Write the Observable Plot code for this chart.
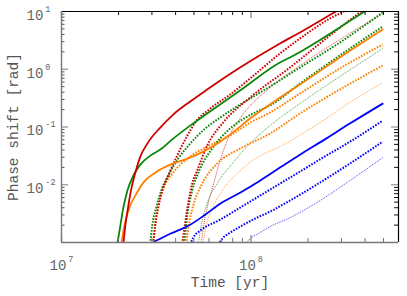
<!DOCTYPE html>
<html><head><meta charset="utf-8">
<script src="https://cdn.jsdelivr.net/npm/d3@7"></script>
<script src="https://cdn.jsdelivr.net/npm/@observablehq/plot@0.6"></script>
<style>body{margin:0;background:#fff}</style>
</head><body><div id="chart"></div>
<script>
// times are in units of 1e7 yr, phase shift in rad
const redSolidT   = [2.12,2.172,2.253,2.336,2.452,2.605,2.836,3.32,3.886,4.775,5.868,8.752,14.21,18.11,28.02,49.52];
const redSolidP   = [0.00095,0.00196,0.00434,0.00856,0.0162,0.0307,0.0516,0.0976,0.164,0.276,0.445,1.07,2.79,4.33,10,29.4];
const redDot1T    = [3.049,3.124,3.24,3.401,3.658,4.03,4.55,5.074,6.085,7.753,9.879,14.21,20.44,26.05,29.4,49.52];
const redDot1P    = [0.00095,0.00196,0.00401,0.0079,0.0144,0.0295,0.0655,0.119,0.208,0.364,0.69,1.87,4.5,7.56,9.23,27.1];
const redDot2T    = [4.334,4.495,4.66,4.893,5.198,5.868,7.122,9.879,16.04,26.05,37.48,49.52];
const redDot2P    = [0.00095,0.0022,0.0047,0.01045,0.01756,0.0476,0.119,0.323,1.07,3.84,9.61,18.9];
const redFaintT   = [5.457,5.658,5.939,6.31,6.869,7.568,8.752,12.59,18.11,29.4,49.52];
const redFaintP   = [0.00095,0.0022,0.0047,0.00965,0.0262,0.063,0.14,0.482,1.16,3.27,9.23];

const greenSolidT = [1.971,2.044,2.12,2.226,2.393,2.605,2.94,3.32,3.886,4.775,5.868,8.752,14.21,16.04,39.81,49.52];
const greenSolidP = [0.00095,0.00196,0.00401,0.0079,0.0144,0.0223,0.0319,0.0406,0.063,0.1057,0.171,0.427,1.31,1.6,10,15.5];
const greenDot1T  = [2.94,3.012,3.162,3.36,3.658,4.129,4.775,5.729,6.869,8.752,12.59,18.11,29.4,49.52];
const greenDot1P  = [0.00095,0.00196,0.00401,0.0079,0.0144,0.0283,0.0516,0.0938,0.1455,0.244,0.501,1.07,2.9,9.61];
const greenDot2T  = [4.441,4.605,4.893,5.391,6.234,7.753,10.5,12.59,18.11,29.4,49.52];
const greenDot2P  = [0.00095,0.00291,0.0079,0.019,0.0422,0.0938,0.178,0.235,0.565,1.73,5.49];
const greenFaintT = [5.262,5.524,5.939,6.624,8.037,9.879,12.59,18.11,29.4,49.52];
const greenFaintP = [0.00095,0.00239,0.0053,0.01045,0.0242,0.0516,0.1057,0.254,0.747,2.28];

const orangeSolidT = [2.069,2.146,2.28,2.452,2.702,3.124,3.748,4.775,5.729,6.869,8.239,9.879,14.21,18.11,29.4,49.52];
const orangeSolidP = [0.00095,0.00196,0.00401,0.00647,0.01088,0.0162,0.0223,0.0295,0.039,0.0558,0.0866,0.14,0.323,0.543,1.6,4.88];
const orangeDot1T  = [3.049,3.124,3.24,3.443,3.886,4.605,5.868,7.753,9.879,12.59,18.11,29.4,49.52];
const orangeDot1P  = [0.00095,0.0022,0.00434,0.00856,0.0162,0.0283,0.0457,0.071,0.119,0.178,0.379,1.03,2.68];
const orangeDot2T  = [4.55,4.718,4.952,5.524,6.624,8.752,12.59,18.11,29.4,49.52];
const orangeDot2P  = [0.00095,0.0022,0.00434,0.01045,0.0232,0.0422,0.0769,0.171,0.445,1.16];
const orangeFaintT = [5.591,5.798,6.085,6.869,8.439,10.75,14.21,23.93,33.2,49.52];
const orangeFaintP = [0.00095,0.00196,0.00316,0.00701,0.0156,0.0295,0.0457,0.129,0.265,0.588];

const blueSolidT = [2.94,3.049,3.32,3.748,4.229,4.775,5.729,6.869,8.752,11.15,14.21,18.11,23.93,33.2,49.52];
const blueSolidP = [0.000845,0.000992,0.00116,0.00142,0.00167,0.00203,0.00303,0.0047,0.00729,0.01178,0.0198,0.0332,0.0581,0.1146,0.254];
const blueDot1T  = [4.775,4.952,5.391,6.869,8.752,11.15,14.21,18.11,23.93,34.01,49.52];
const blueDot1P  = [0.000916,0.00121,0.0016,0.00248,0.00401,0.00647,0.01045,0.01686,0.0295,0.0581,0.129];
const blueDot2T  = [6.705,7.037,7.753,8.752,10.5,12.59,16.04,23.08,33.2,49.52];
const blueDot2P  = [0.000916,0.00116,0.00148,0.00188,0.00259,0.00342,0.0053,0.01088,0.0232,0.0558];
const blueFaintT = [9.299,9.879,11.15,12.59,16.04,23.08,33.2,49.52];
const blueFaintP = [0.00095,0.00116,0.00148,0.00188,0.00269,0.0053,0.01178,0.0295];

const xMajor = [1e7, 1e8];
const xMinor = [2e7,3e7,4e7,5e7,6e7,7e7,8e7,9e7,2e8,3e8,4e8,5e8];
const yMajor = [1e-2, 1e-1, 1];
const yMinor = [2e-3,3e-3,4e-3,5e-3,6e-3,7e-3,8e-3,9e-3,2e-2,3e-2,4e-2,5e-2,6e-2,7e-2,8e-2,9e-2,2e-1,3e-1,4e-1,5e-1,6e-1,7e-1,8e-1,9e-1,2,3,4,5,6,7,8,9];
const xLabels = [{v:1e7, s:"10^7"}, {v:1e8, s:"10^8"}];
const yLabels = [{v:10, s:"10^1"}, {v:1, s:"10^0"}, {v:0.1, s:"10^-1"}, {v:0.01, s:"10^-2"}];

const RED = "#cc0000", GREEN = "#0a870a", ORANGE = "#ff8000", BLUE = "#0000ff";
const series = [
  {t: redFaintT, p: redFaintP, c: RED, k: "faint"},
  {t: greenFaintT, p: greenFaintP, c: GREEN, k: "faint"},
  {t: orangeFaintT, p: orangeFaintP, c: ORANGE, k: "faint"},
  {t: blueFaintT, p: blueFaintP, c: BLUE, k: "faint"},
  {t: orangeDot2T, p: orangeDot2P, c: ORANGE, k: "dot"},
  {t: orangeDot1T, p: orangeDot1P, c: ORANGE, k: "dot"},
  {t: blueDot2T, p: blueDot2P, c: BLUE, k: "dot"},
  {t: blueDot1T, p: blueDot1P, c: BLUE, k: "dot"},
  {t: greenDot2T, p: greenDot2P, c: GREEN, k: "dot"},
  {t: greenDot1T, p: greenDot1P, c: GREEN, k: "dot"},
  {t: redDot2T, p: redDot2P, c: RED, k: "dot"},
  {t: redDot1T, p: redDot1P, c: RED, k: "dot"},
  {t: orangeSolidT, p: orangeSolidP, c: ORANGE, k: "solid"},
  {t: blueSolidT, p: blueSolidP, c: BLUE, k: "solid"},
  {t: greenSolidT, p: greenSolidP, c: GREEN, k: "solid"},
  {t: redSolidT, p: redSolidP, c: RED, k: "solid"}
];
const styles = {
  solid: {strokeWidth: 1.8},
  dot:   {strokeWidth: 2, strokeDasharray: "1.6,1.4", strokeLinecap: "butt"},
  faint: {strokeWidth: 1, strokeDasharray: "1,1", strokeOpacity: 0.75, strokeLinecap: "butt"}
};

const W = 407, H = 296, mL = 61, mT = 11, mR = 9, mB = 54;
const fw = W - mL - mR, fh = H - mT - mB;
const FONT = "'Liberation Mono', 'DejaVu Sans Mono', monospace";

const lineMarks = series.map(s => Plot.line(s.t.map((t, i) => ({t: t * 1e7, p: s.p[i]})), {
  x: "t", y: "p", stroke: s.c, curve: "monotone-x", clip: true, ...styles[s.k]
}));

const chart = Plot.plot({
  width: W, height: H,
  marginLeft: mL, marginTop: mT, marginRight: mR, marginBottom: mB,
  style: {fontFamily: FONT, background: "#fff"},
  x: {type: "log", domain: [1e7, 6e8], axis: null},
  y: {type: "log", domain: [1e-3, 10], axis: null},
  marks: [
    ...lineMarks,
    // ticks (inward)
    Plot.tickX(xMinor, {x: d => d, insetTop: fh - 4, stroke: "#777", strokeWidth: 1}),
    Plot.tickX(xMinor, {x: d => d, insetBottom: fh - 4, stroke: "#111", strokeWidth: 1}),
    Plot.tickX(xMajor, {x: d => d, insetTop: fh - 7, stroke: "#888", strokeWidth: 1.3}),
    Plot.tickX(xMajor, {x: d => d, insetBottom: fh - 7, stroke: "#888", strokeWidth: 1.3}),
    Plot.tickY(yMinor, {y: d => d, insetRight: fw - 3.5, stroke: "#555", strokeWidth: 1}),
    Plot.tickY(yMinor, {y: d => d, insetLeft: fw - 4, stroke: "#111", strokeWidth: 1}),
    Plot.tickY(yMajor, {y: d => d, insetRight: fw - 7, stroke: "#999", strokeWidth: 1.3}),
    Plot.tickY(yMajor, {y: d => d, insetLeft: fw - 7, stroke: "#999", strokeWidth: 1.3}),
    // frame
    Plot.ruleY([10], {stroke: "#000", strokeWidth: 1.2}),
    Plot.ruleX([6e8], {stroke: "#000", strokeWidth: 1.2}),
    Plot.ruleX([1e7], {stroke: "#777", strokeWidth: 1.4}),
    Plot.ruleY([1e-3], {stroke: "#777", strokeWidth: 1.4}),
    // tick labels
    Plot.text(xLabels, {x: "v", y: () => 1e-3, text: "s", dy: 23, textAnchor: "middle", fill: "#666", fontSize: 14}),
    Plot.text(yLabels, {x: () => 1e7, y: "v", text: "s", dx: -35, dy: 4, textAnchor: "start", fill: "#666", fontSize: 14}),
    // axis titles
    Plot.text(["Time [yr]"], {frameAnchor: "bottom", dy: 44, textAnchor: "middle", fill: "#555", fontSize: 14.5}),
    Plot.text(["Phase shift [rad]"], {frameAnchor: "left", dx: -48, rotate: -90, textAnchor: "middle", fill: "#555", fontSize: 14.5})
  ]
});

// superscripts for the power-of-ten labels
chart.querySelectorAll("text").forEach(el => {
  const m = (el.textContent || "").match(/^10\^(.+)$/);
  if (!m) return;
  el.textContent = "";
  const ns = "http://www.w3.org/2000/svg";
  const a = document.createElementNS(ns, "tspan");
  a.textContent = "10";
  const b = document.createElementNS(ns, "tspan");
  b.textContent = m[1];
  b.setAttribute("dy", "-8");
  b.setAttribute("dx", "2");
  b.setAttribute("font-size", "8.5");
  el.appendChild(a); el.appendChild(b);
});

document.getElementById("chart").appendChild(chart);
</script>
</body></html>
